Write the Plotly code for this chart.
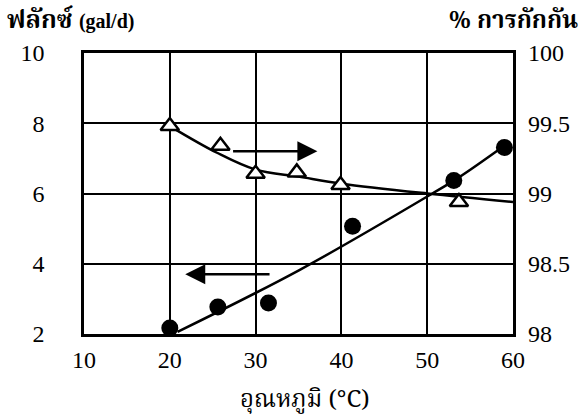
import plotly.graph_objects as go

# Flux data (left axis)
flux_temp = [20.0, 25.6, 31.5, 41.3, 53.1, 59.0]
flux_val = [2.17, 2.77, 2.88, 5.07, 6.37, 7.31]
# Flux trend line
flux_fit_temp = [20.9, 35.1, 50.6, 53.7, 58.7]
flux_fit_val = [2.06, 3.82, 6.0, 6.46, 7.31]

# Rejection data (right axis)
rej_temp = [20.0, 25.9, 30.0, 34.8, 39.9, 53.7]
rej_val = [99.48, 99.34, 99.14, 99.15, 99.06, 98.94]
# Rejection trend curve
rej_fit_temp = [20.0, 25.5, 30.0, 35.0, 40.0, 50.0, 60.0]
rej_fit_val = [99.48, 99.29, 99.17, 99.12, 99.07, 99.0, 98.94]

x_ticks = [10, 20, 30, 40, 50, 60]
y_left_ticks = [2, 4, 6, 8, 10]
y_right_ticks = [98, 98.5, 99, 99.5, 100]
y_right_labels = ["98", "98.5", "99", "99.5", "100"]

serif = "Liberation Serif, Times New Roman, serif"
thai = "Noto Serif Thai, Loma, Garuda, Norasi, Tlwg Typo, Noto Sans Thai, serif"

fig = go.Figure()

fig.add_trace(go.Scatter(x=flux_fit_temp, y=flux_fit_val, mode="lines",
                         line=dict(color="black", width=2.5, shape="spline"),
                         showlegend=False, hoverinfo="skip"))
fig.add_trace(go.Scatter(x=flux_temp, y=flux_val, mode="markers",
                         marker=dict(symbol="circle", size=17, color="black"),
                         showlegend=False))
fig.add_trace(go.Scatter(x=rej_fit_temp, y=rej_fit_val, mode="lines", yaxis="y2",
                         line=dict(color="black", width=2.5, shape="spline"),
                         showlegend=False, hoverinfo="skip"))
fig.add_trace(go.Scatter(x=rej_temp, y=rej_val, mode="markers", yaxis="y2",
                         marker=dict(symbol="triangle-up", size=16, color="white",
                                     line=dict(color="black", width=2.5)),
                         showlegend=False))

tick_font = dict(family=serif, size=24, color="black")
axis_common = dict(showline=True, linecolor="black", linewidth=2.5,
                   showgrid=True, gridcolor="black", gridwidth=2,
                   zeroline=False, ticks="", tickfont=tick_font)

fig.update_layout(
    width=585, height=420,
    margin=dict(l=84, r=72, t=53, b=86),
    paper_bgcolor="white", plot_bgcolor="white",
    xaxis=dict(range=[10, 60], tickvals=x_ticks, mirror=True,
               ticklabelstandoff=2, **axis_common),
    yaxis=dict(range=[2, 10], tickvals=y_left_ticks, mirror=True,
               ticklabelstandoff=32, **axis_common),
    yaxis2=dict(range=[98, 100], tickvals=y_right_ticks, ticktext=y_right_labels,
                overlaying="y", side="right", showgrid=False, showline=False,
                zeroline=False, ticks="", ticklabelstandoff=14, tickfont=tick_font),
)

# Arrows
fig.add_annotation(x=37.2, y=99.3, ax=27.2, ay=99.3, xref="x", yref="y2",
                   axref="x", ayref="y2", showarrow=True, arrowhead=2,
                   arrowsize=1.6, arrowwidth=2.5, arrowcolor="black", text="")
fig.add_annotation(x=21.8, y=3.7, ax=31.8, ay=3.7, xref="x", yref="y",
                   axref="x", ayref="y", showarrow=True, arrowhead=2,
                   arrowsize=1.6, arrowwidth=2.5, arrowcolor="black", text="")

# Axis titles
fig.add_annotation(x=-0.184, y=1.0, xref="paper", yref="paper", xanchor="left", yanchor="middle",
                   yshift=32,
                   text="<b>ฟลักซ์</b> <span style='font-family:Liberation Serif;font-size:20px'><b>(gal/d)</b></span>",
                   showarrow=False, font=dict(family=thai, size=25, color="black"))
fig.add_annotation(x=1.156, y=1.0, xref="paper", yref="paper", xanchor="right", yanchor="middle",
                   yshift=32, text="<b>% การกักกัน</b>", showarrow=False,
                   font=dict(family=thai, size=24, color="black"))
fig.add_annotation(x=0.515, y=-0.235, xref="paper", yref="paper", xanchor="center", yanchor="middle",
                   text="อุณหภูมิ (°C)", showarrow=False,
                   font=dict(family=thai, size=24, color="black"))

fig.write_html("out.html", config={"displayModeBar": False},
               post_script="document.body.style.margin='0';")
